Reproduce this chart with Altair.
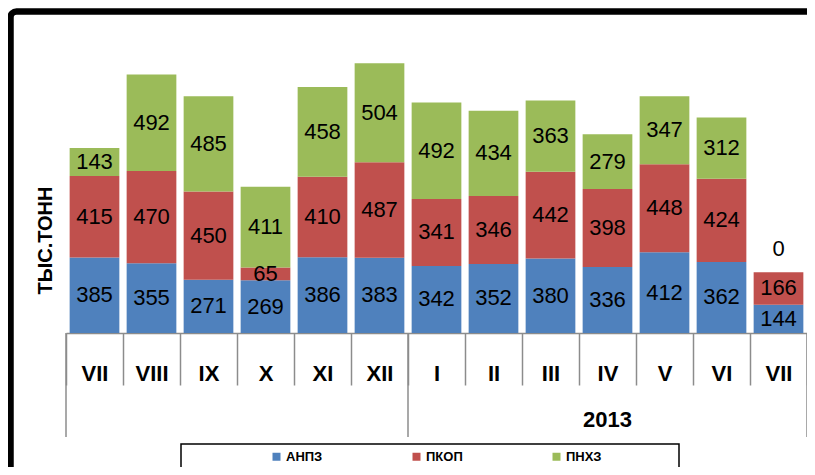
import altair as alt
import pandas as pd

# ---- data ----
months = ["VII", "VIII", "IX", "X", "XI", "XII", "I", "II", "III", "IV", "V", "VI", "VII"]
year_label = "2013"
year_start_index = 6  # first month of 2013 (I)
series = ["АНПЗ", "ПКОП", "ПНХЗ"]
anpz = [385, 355, 271, 269, 386, 383, 342, 352, 380, 336, 412, 362, 144]
pkop = [415, 470, 450, 65, 410, 487, 341, 346, 442, 398, 448, 424, 166]
pnhz = [143, 492, 485, 411, 458, 504, 492, 434, 363, 279, 347, 312, 0]
colors = ["#4F81BD", "#C0504D", "#9BBB59"]
y_title = "ТЫС.ТОНН"

keys = [f"{i:02d}" for i in range(len(months))]
rows = []
for i, k in enumerate(keys):
    start = 0
    for j, (s, vals) in enumerate(zip(series, [anpz, pkop, pnhz])):
        v = vals[i]
        rows.append(dict(key=k, series=s, idx=j, value=v, label=str(v),
                         start=start, end=start + v, mid=start + v / 2))
        start += v
df = pd.DataFrame(rows)

FONT = "Liberation Sans"
W, H = 741, 314
GREY = "#8C8C8C"

label_expr = "[" + ",".join(f"'{m}'" for m in months) + "][toNumber(datum.value)]"

x_axis = alt.Axis(
    title=None, labelExpr=label_expr, labelFont=FONT, labelFontSize=22,
    labelFontWeight="bold", labelColor="black", labelAngle=0,
    labelBaseline="middle", labelPadding=-12, tickBand="extent", tickSize=52,
    tickColor=GREY, tickWidth=1.5, domainColor=GREY, domainWidth=1.5, grid=False,
)
x_scale = alt.Scale(paddingInner=0, paddingOuter=0)


def xenc(bp=None):
    if bp is None:
        return alt.X("key:N", sort=keys, title=None, scale=x_scale, axis=x_axis)
    return alt.X("key:N", sort=keys, title=None, scale=x_scale, axis=x_axis, bandPosition=bp)


y_scale = alt.Scale(domain=[0, 1600], nice=False, zero=True)
y_axis = alt.Axis(
    title=y_title, domain=False, ticks=False, labels=False, grid=False,
    titleFont=FONT, titleFontSize=20, titleFontWeight="bold", titleColor="black",
    titleAngle=270, titleX=-21, titleY=221, titleAlign="center", titleBaseline="middle",
)

bars = alt.Chart(df).mark_bar(width=alt.RelativeBandSize(0.872)).encode(
    x=xenc(),
    y=alt.Y("start:Q", scale=y_scale, axis=y_axis),
    y2="end:Q",
    color=alt.Color(
        "series:N",
        scale=alt.Scale(domain=series, range=colors),
        legend=alt.Legend(
            title=None, orient="none", legendX=204, legendY=431,
            direction="horizontal", columns=3, symbolType="square",
            symbolSize=64, symbolStrokeWidth=0, labelFont=FONT,
            labelFontSize=13, labelFontWeight="bold", labelColor="black",
            labelOffset=3, columnPadding=87, padding=0,
        ),
    ),
    order=alt.Order("idx:Q", sort="ascending"),
)

labels = alt.Chart(df).transform_filter("datum.value > 0").mark_text(
    font=FONT, fontSize=22, color="black", baseline="middle"
).encode(
    x=xenc(),
    y=alt.Y("mid:Q", scale=y_scale, axis=y_axis),
    text="label:N",
)

zero_labels = alt.Chart(df).transform_filter("datum.value == 0").mark_text(
    font=FONT, fontSize=22, color="black", baseline="middle", dy=-23
).encode(
    x=xenc(),
    y=alt.Y("mid:Q", scale=y_scale, axis=y_axis),
    text="label:N",
)

# two-level axis decoration
grp_start = pd.DataFrame({"key": [keys[0], keys[year_start_index]]})
grp_end = pd.DataFrame({"key": [keys[-1]]})
long_start = alt.Chart(grp_start).mark_rule(color=GREY, strokeWidth=1.5).encode(
    x=xenc(0), y=alt.value(H), y2=alt.value(H + 104)
)
long_end = alt.Chart(grp_end).mark_rule(color=GREY, strokeWidth=1.5).encode(
    x=xenc(1), y=alt.value(H), y2=alt.value(H + 104)
)
year_df = pd.DataFrame({"key": [keys[(year_start_index + len(keys) - 1) // 2]], "label": [year_label]})
year_text = alt.Chart(year_df).mark_text(
    font=FONT, fontSize=22, fontWeight="bold", color="black", baseline="middle"
).encode(x=xenc(), y=alt.value(H + 87), text="label:N")

one = pd.DataFrame({"a": [0]})
legend_box = alt.Chart(one).mark_rect(fill="white", stroke="black", strokeWidth=1.5).encode(
    x=alt.value(115), x2=alt.value(613), y=alt.value(425), y2=alt.value(480)
)
frame = alt.Chart(one).mark_rect(filled=False, stroke="black", strokeWidth=6.5, cornerRadius=6).encode(
    x=alt.value(-55.5), x2=alt.value(800), y=alt.value(-7.5), y2=alt.value(480)
)

chart = alt.layer(
    bars, labels, zero_labels, long_start, long_end, year_text,
    legend_box, frame
).properties(
    width=W, height=H,
    background="white",
    autosize=alt.AutoSizeParams(type="none"),
    padding={"left": 58, "top": 11, "right": 0, "bottom": 134},
).configure_view(stroke="white", strokeWidth=1)

chart.save("out.html", embed_options={"renderer": "svg", "actions": False})
